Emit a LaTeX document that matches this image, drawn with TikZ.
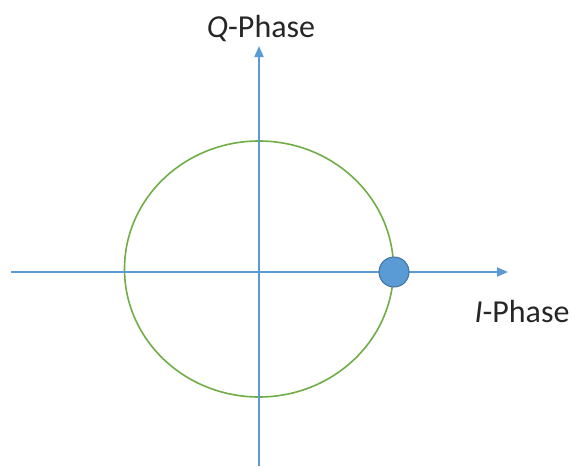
\documentclass[tikz,border=0pt]{standalone}
\usepackage{fontspec}
\setmainfont{Carlito}
\usetikzlibrary{arrows.meta}
\definecolor{axblue}{HTML}{5B9BD5}
\definecolor{circgreen}{HTML}{70AD47}
\definecolor{dotedge}{HTML}{41719C}
\begin{document}
\begin{tikzpicture}[x=1pt,y=-1pt,
  axis/.style={draw=axblue,line width=2pt,-{Triangle[length=11pt,width=9pt]}},
  lbl/.style={font=\fontsize{32}{36}\selectfont,text=black!85,inner sep=0pt},
  unitcirc/.style={draw=circgreen,line width=1.6pt},
  sym/.style={circle,fill=axblue,draw=dotedge,line width=1pt,minimum size=30pt,inner sep=0pt}]
\useasboundingbox (0,0) rectangle (575,466);
\coordinate (iL) at (11,272);
\coordinate (iR) at (508,272);
\coordinate (qB) at (259,466);
\coordinate (qT) at (259,46);
\draw[unitcirc] (259,269) ellipse [x radius=134.5, y radius=128];
\draw[axis] (iL) -- (iR);
\draw[axis] (qB) -- (qT);
\node[sym] (s) at (394,272) {};
\node[lbl,anchor=base] (ql) at (261,37) {\textit{Q}-Phase};
\node[lbl,anchor=base] (il) at (522,322) {\textit{I}-Phase};
\end{tikzpicture}
\end{document}
